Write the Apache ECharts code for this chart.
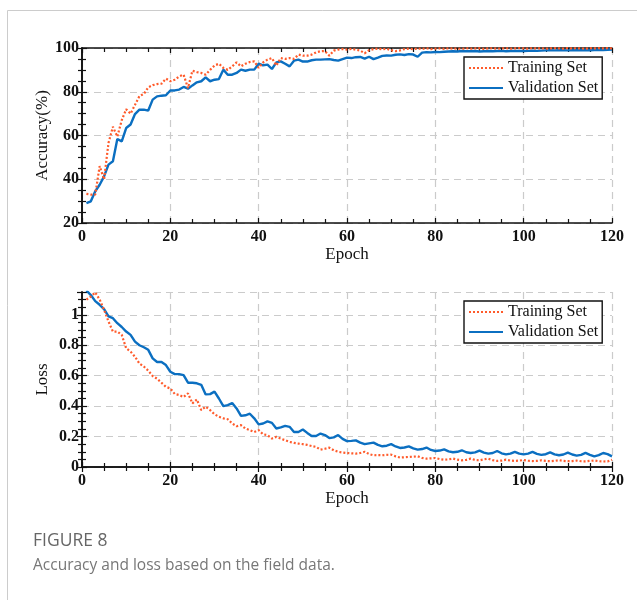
<!DOCTYPE html>
<html>
<head>
<meta charset="utf-8">
<script src="https://cdn.jsdelivr.net/npm/echarts@6/dist/echarts.min.js"></script>
<style>
  html, body { margin: 0; padding: 0; background: #fff; }
  #main { width: 637px; height: 600px; }
</style>
</head>
<body>
<div id="main"></div>
<script>
// 数据：每个 epoch 的精度和损失
var accTrain = [
  33.3, 33.0, 33.0, 46.0, 40.0, 56.6, 64.0, 59.5, 67.0, 72.0,
  70.0, 74.0, 78.0, 79.0, 82.0, 83.0, 83.5, 83.7, 86.0, 84.8,
  85.5, 87.0, 87.8, 81.7, 89.6, 89.0, 88.6, 87.8, 90.0, 92.0,
  92.8, 90.9, 90.0, 91.6, 93.4, 91.6, 92.8, 93.6, 93.9, 90.9,
  93.4, 94.7, 95.4, 92.0, 95.4, 95.0, 95.4, 95.0, 97.0, 96.5,
  96.5, 97.0, 98.0, 98.5, 98.6, 96.5, 98.8, 99.3, 99.5, 99.3,
  99.6, 99.2, 98.8, 97.6, 99.0, 99.5, 99.7, 99.4, 99.6, 99.0,
  98.6, 98.9, 99.5, 99.7, 99.4, 99.8, 99.6, 99.9, 99.5, 99.7,
  99.8, 99.6, 99.9, 99.7, 99.8, 99.6, 99.9, 99.7, 99.8, 99.9,
  99.6, 99.8, 99.9, 99.7, 99.8, 99.9, 99.7, 99.8, 99.9, 99.8,
  99.7, 99.9, 99.8, 99.9, 99.7, 99.8, 99.9, 99.8, 99.7, 99.9,
  99.8, 99.9, 99.8, 99.7, 99.9, 99.8, 99.9, 99.8, 99.9, 99.8
];
var accVal = [
  29.1, 29.9, 34.5, 37.5, 41.3, 46.7, 48.2, 58.4, 57.3, 63.4,
  65.0, 69.8, 71.8, 71.8, 71.4, 76.4, 77.9, 78.2, 78.4, 80.6,
  80.6, 81.0, 82.2, 81.4, 82.9, 84.3, 84.8, 86.6, 84.8, 85.5,
  85.8, 90.1, 87.8, 87.8, 88.6, 90.1, 89.6, 90.1, 90.1, 92.8,
  92.1, 92.4, 90.4, 93.4, 93.9, 92.8, 91.6, 94.2, 94.7, 93.8,
  93.8, 94.4, 94.7, 94.7, 94.8, 94.9, 94.5, 94.2, 94.9, 95.6,
  95.4, 95.8, 95.9, 95.1, 96.0, 94.9, 95.6, 96.4, 96.6, 96.5,
  96.9, 97.1, 96.8, 97.2, 97.0, 96.0, 97.9, 98.1, 98.0, 98.2,
  98.1, 98.3, 98.4, 98.5, 98.4, 98.6, 98.5, 98.5, 98.6, 98.4,
  98.5, 98.6, 98.5, 98.6, 98.7, 98.5, 98.6, 98.7, 98.6, 98.6,
  98.7, 98.8, 98.7, 98.8, 98.9, 99.0, 98.9, 99.0, 99.0, 98.9,
  99.0, 99.1, 99.0, 99.1, 99.0, 99.1, 99.2, 99.1, 99.2, 99.3
];
var lossTrain = [
  1.100, 1.120, 1.147, 1.100, 1.033, 0.956, 0.890, 0.890, 0.868, 0.780,
  0.758, 0.725, 0.680, 0.660, 0.633, 0.598, 0.580, 0.554, 0.527, 0.516,
  0.480, 0.473, 0.460, 0.484, 0.418, 0.444, 0.374, 0.396, 0.374, 0.347,
  0.330, 0.320, 0.314, 0.286, 0.268, 0.275, 0.253, 0.242, 0.230, 0.242,
  0.215, 0.209, 0.187, 0.198, 0.187, 0.176, 0.165, 0.158, 0.154, 0.150,
  0.145, 0.138, 0.132, 0.114, 0.120, 0.127, 0.110, 0.100, 0.095, 0.092,
  0.090, 0.088, 0.092, 0.100, 0.085, 0.077, 0.078, 0.077, 0.080, 0.081,
  0.070, 0.062, 0.064, 0.066, 0.068, 0.070, 0.060, 0.055, 0.057, 0.059,
  0.052, 0.048, 0.050, 0.055, 0.048, 0.044, 0.047, 0.055, 0.046, 0.044,
  0.050, 0.055, 0.045, 0.040, 0.042, 0.048, 0.042, 0.040, 0.042, 0.046,
  0.041, 0.039, 0.040, 0.044, 0.040, 0.038, 0.040, 0.045, 0.040, 0.038,
  0.039, 0.042, 0.038, 0.037, 0.040, 0.043, 0.038, 0.036, 0.037, 0.048
];
var lossVal = [
  1.160, 1.130, 1.090, 1.066, 1.037, 0.990, 0.978, 0.945, 0.920, 0.890,
  0.868, 0.824, 0.800, 0.787, 0.770, 0.714, 0.690, 0.690, 0.670, 0.626,
  0.610, 0.610, 0.604, 0.554, 0.554, 0.550, 0.540, 0.477, 0.479, 0.495,
  0.450, 0.400, 0.407, 0.420, 0.385, 0.336, 0.340, 0.350, 0.320, 0.280,
  0.286, 0.300, 0.290, 0.253, 0.260, 0.270, 0.264, 0.230, 0.230, 0.246,
  0.224, 0.204, 0.204, 0.220, 0.210, 0.190, 0.195, 0.210, 0.185, 0.170,
  0.172, 0.175, 0.160, 0.150, 0.155, 0.160, 0.145, 0.136, 0.140, 0.150,
  0.135, 0.125, 0.128, 0.135, 0.122, 0.114, 0.118, 0.128, 0.112, 0.105,
  0.108, 0.116, 0.103, 0.097, 0.100, 0.110, 0.097, 0.092, 0.096, 0.108,
  0.095, 0.088, 0.092, 0.105, 0.090, 0.083, 0.088, 0.100, 0.088, 0.083,
  0.088, 0.099, 0.086, 0.080, 0.084, 0.096, 0.083, 0.077, 0.082, 0.095,
  0.082, 0.075, 0.080, 0.093, 0.080, 0.070, 0.078, 0.092, 0.085, 0.070
];
var epochs = accTrain.map(function (v, i) { return i + 1; });

var serif = "'Liberation Serif', 'DejaVu Serif', serif";
var orange = "#ff5b2b";
var blue = "#0b6fc1";

function pairs(arr) {
  return arr.map(function (v, i) { return [epochs[i], v]; });
}

function xAxes(gridIndex) {
  var common = {
    type: "value", gridIndex: gridIndex, min: 0, max: 120, interval: 20,
    axisLine: { show: true, lineStyle: { color: "#111", width: 1.6 } },
    axisTick: { show: true, inside: true, length: 5, lineStyle: { color: "#111", width: 1.2 } },
    minorTick: { show: true, splitNumber: 4, length: 4, lineStyle: { color: "#111", width: 1.2 } }
  };
  return [
    Object.assign({}, common, {
      position: "bottom",
      name: "Epoch", nameLocation: "middle", nameGap: 23, nameMoveOverlap: false,
      nameTextStyle: { fontFamily: serif, fontSize: 17, color: "#111" },
      axisLabel: { fontFamily: serif, fontWeight: "bold", fontSize: 16, color: "#111", margin: 6 },
      splitLine: { show: true, lineStyle: { color: "#cbcbcb", width: 1.2, type: [7, 5] } }
    }),
    Object.assign({}, common, {
      position: "top",
      axisLabel: { show: false },
      splitLine: { show: false }
    })
  ];
}

function yAxes(gridIndex, min, max, name, minorSplit) {
  var common = {
    type: "value", gridIndex: gridIndex, min: min, max: max,
    interval: gridIndex === 0 ? 20 : 0.2,
    axisLine: { show: true, lineStyle: { color: "#111", width: 1.6 } },
    axisTick: { show: true, inside: true, length: 5, lineStyle: { color: "#111", width: 1.2 } },
    minorTick: { show: true, splitNumber: minorSplit, length: 4, lineStyle: { color: "#111", width: 1.2 } }
  };
  return [
    Object.assign({}, common, {
      position: "left",
      name: name, nameLocation: "middle", nameGap: 31, nameMoveOverlap: false,
      nameTextStyle: { fontFamily: serif, fontSize: 17, color: "#111" },
      axisLabel: { fontFamily: serif, fontWeight: "bold", fontSize: 16, color: "#111", margin: 3, showMaxLabel: gridIndex === 0 },
      splitLine: { show: true, lineStyle: { color: "#cbcbcb", width: 1.2, type: [7, 5] } }
    }),
    Object.assign({}, common, {
      position: "right",
      axisLabel: { show: false },
      splitLine: { show: false }
    })
  ];
}

function legendAt(top) {
  return {
    orient: "vertical", left: 464, top: top,
    backgroundColor: "#fff", borderColor: "#111", borderWidth: 1.4, borderRadius: 0,
    padding: [3, 4, 3, 4], itemGap: 4, itemWidth: 34, itemHeight: 14,
    itemStyle: { color: "rgba(0,0,0,0)", borderWidth: 0, opacity: 0 },
    textStyle: { fontFamily: serif, fontSize: 16, color: "#111" },
    data: ["Training Set", "Validation Set"]
  };
}

function lineSeries(name, xi, yi, arr, color, dotted) {
  return {
    name: name, type: "line", xAxisIndex: xi, yAxisIndex: yi,
    data: pairs(arr), showSymbol: false, symbol: "none", smooth: false,
    lineStyle: { color: color, width: dotted ? 2.2 : 2.4, type: dotted ? [2, 2] : "solid" },
    itemStyle: { color: color },
    z: dotted ? 3 : 2
  };
}

var myChart = echarts.init(document.getElementById("main"));
var option = {
  animation: false,
  backgroundColor: "#fff",
  grid: [
    { left: 82, top: 48, width: 530, height: 175 },
    { left: 82, top: 292, width: 530, height: 175 }
  ],
  xAxis: xAxes(0).concat(xAxes(1)),
  yAxis: yAxes(0, 20, 100, "Accuracy(%)", 4).concat(yAxes(1, 0, 1.15, "Loss", 4)),
  legend: [legendAt(57), legendAt(301)],
  series: [
    lineSeries("Validation Set", 0, 0, accVal, blue, false),
    lineSeries("Training Set", 0, 0, accTrain, orange, true),
    lineSeries("Validation Set", 2, 2, lossVal, blue, false),
    lineSeries("Training Set", 2, 2, lossTrain, orange, true)
  ],
  graphic: [
    { type: "line", shape: { x1: 7.5, y1: 10.5, x2: 637, y2: 10.5 }, style: { stroke: "#cccccc", lineWidth: 1 } },
    { type: "line", shape: { x1: 7.5, y1: 10.5, x2: 7.5, y2: 600 }, style: { stroke: "#cccccc", lineWidth: 1 } },
    { type: "text", left: 33, top: 532, style: { text: "FIGURE 8", fontFamily: "'Open Sans', 'Noto Sans', sans-serif", fontSize: 17.5, fontWeight: 500, fill: "#666" } },
    { type: "text", left: 33, top: 558, style: { text: "Accuracy and loss based on the field data.", fontFamily: "'Open Sans', 'Noto Sans', sans-serif", fontSize: 15.5, fill: "#777" } }
  ]
};
myChart.setOption(option);
</script>
</body>
</html>
